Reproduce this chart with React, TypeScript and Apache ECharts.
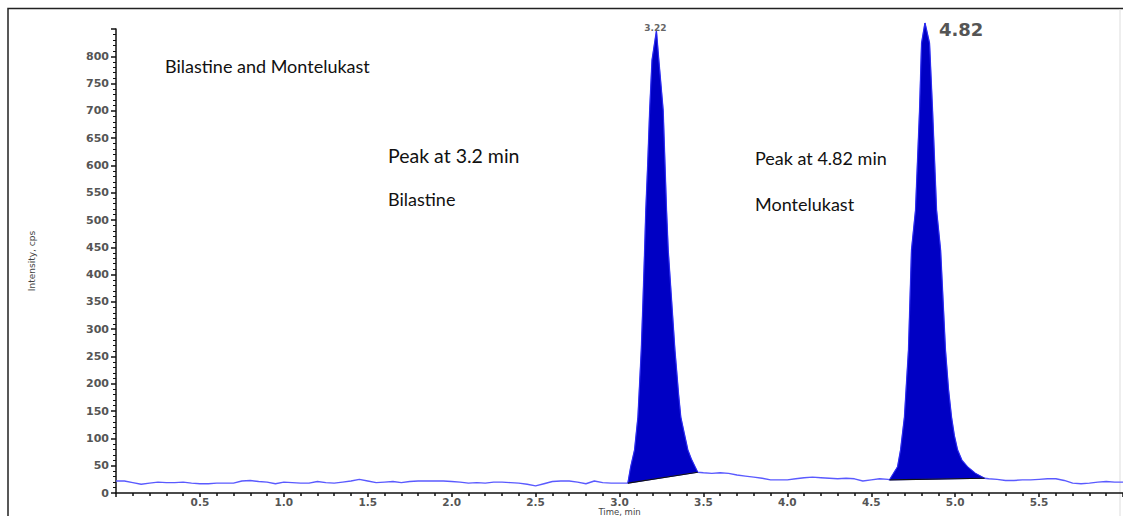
import React, { useEffect, useRef } from "react";
import * as echarts from "echarts";

// Chromatogram trace (time in min, intensity in cps)
const traceTime = [
  0.0, 0.05, 0.1, 0.15, 0.2, 0.25, 0.3, 0.35, 0.4, 0.45, 0.5, 0.55, 0.6, 0.65, 0.7, 0.75, 0.8, 0.85, 0.9, 0.95,
  1.0, 1.05, 1.1, 1.15, 1.2, 1.25, 1.3, 1.35, 1.4, 1.45, 1.5, 1.55, 1.6, 1.65, 1.7, 1.75, 1.8, 1.85, 1.9, 1.95,
  2.0, 2.05, 2.1, 2.15, 2.2, 2.25, 2.3, 2.35, 2.4, 2.45, 2.5, 2.55, 2.6, 2.65, 2.7, 2.75, 2.8, 2.85, 2.9, 2.95,
  3.0, 3.05, 3.067, 3.09, 3.11, 3.12, 3.13, 3.14, 3.15, 3.157, 3.168, 3.18, 3.194, 3.22, 3.234, 3.26, 3.28, 3.29,
  3.33, 3.352, 3.365, 3.385, 3.407, 3.428, 3.45, 3.466, 3.5, 3.55, 3.6, 3.65, 3.7, 3.75, 3.8, 3.85, 3.9, 3.95, 4.0,
  4.05, 4.1, 4.15, 4.2, 4.25, 4.3, 4.35, 4.4, 4.45, 4.5, 4.55, 4.6, 4.609, 4.657, 4.675, 4.698, 4.722, 4.74, 4.764,
  4.788, 4.8, 4.82, 4.847, 4.865, 4.889, 4.913, 4.942, 4.96, 4.978, 4.995, 5.014, 5.04, 5.073, 5.12, 5.175, 5.2,
  5.25, 5.3, 5.35, 5.4, 5.45, 5.5, 5.55, 5.6, 5.65, 5.7, 5.75, 5.8, 5.85, 5.9, 5.95, 6.0,
];
const traceIntensity = [
  22, 22, 19, 16, 18, 20, 19, 19, 20, 18, 17, 17, 18, 18, 18, 22, 23, 21, 20, 17,
  20, 19, 18, 18, 21, 19, 18, 20, 22, 25, 22, 19, 20, 21, 19, 21, 22, 22, 22, 22,
  21, 20, 18, 19, 18, 20, 20, 19, 18, 16, 13, 17, 21, 22, 22, 20, 17, 22, 19, 18,
  18, 18, 48, 79, 139, 200, 262, 350, 445, 518, 600, 701, 793, 846, 793, 701, 518, 445,
  262, 180, 139, 110, 79, 62, 48, 38, 37, 36, 37, 36, 33, 31, 29, 27, 24, 24, 24,
  26, 28, 29, 28, 27, 26, 27, 26, 22, 24, 26, 25, 24, 48, 79, 139, 262, 445, 518,
  701, 824, 861, 824, 701, 518, 445, 262, 190, 139, 105, 79, 60, 48, 36, 27, 26,
  25, 23, 23, 24, 24, 25, 26, 26, 23, 18, 17, 18, 20, 21, 20, 20,
];

// Integrated peaks: start / end of the integration baseline and apex labels
const peakStart = [3.05, 4.609];
const peakEnd = [3.466, 5.175];
const peakLabels = ["3.22", "4.82"];

// Annotations
const titleText = "Bilastine and Montelukast";
const noteTexts = ["Peak at 3.2 min", "Bilastine", "Peak at 4.82 min", "Montelukast"];

const xLabelValues = [0.5, 1.0, 1.5, 2.0, 2.5, 3.0, 3.5, 4.0, 4.5, 5.0, 5.5];
const yLabelValues = [0, 50, 100, 150, 200, 250, 300, 350, 400, 450, 500, 550, 600, 650, 700, 750, 800];

const annFont = "Lato, 'Open Sans', sans-serif";

export default function App() {
  const ref = useRef<HTMLDivElement | null>(null);

  useEffect(() => {
    if (!ref.current) return;
    const chart = echarts.init(ref.current, undefined, { renderer: "svg" });
    const traceData = traceTime.map((t, i) => [t, traceIntensity[i]]);

    const annText = (text: string, x: number, y: number, size: number) => ({
      type: "text",
      x,
      y,
      style: { text, fontFamily: annFont, fontSize: size, fill: "#111", verticalAlign: "middle" },
    });

    const option: any = {
      animation: false,
      backgroundColor: "#ffffff",
      grid: { left: 116, right: 0, top: 29, bottom: 23, containLabel: false, outerBoundsMode: "none" },
      xAxis: {
        type: "value",
        min: 0,
        max: 6,
        interval: 0.5,
        name: "Time, min",
        nameLocation: "middle",
        nameGap: 14,
        nameMoveOverlap: false,
        nameTextStyle: { fontFamily: "DejaVu Sans", fontSize: 8.5, color: "#444", lineHeight: 9 },
        axisLine: { show: true, onZero: false, lineStyle: { color: "#111", width: 1.5 } },
        axisTick: { show: true, length: 4, lineStyle: { color: "#111", width: 1.5 } },
        minorTick: { show: true, splitNumber: 5, length: 3, lineStyle: { color: "#111", width: 1.5 } },
        splitLine: { show: false },
        axisLabel: {
          fontFamily: "DejaVu Sans",
          fontWeight: "bold",
          fontSize: 10.5,
          lineHeight: 11,
          color: "#555",
          margin: 3,
          formatter: (v: number) =>
            xLabelValues.some((x) => Math.abs(x - v) < 1e-6) ? v.toFixed(1) : "",
        },
      },
      yAxis: {
        type: "value",
        min: 0,
        max: 850,
        interval: 50,
        name: "Intensity, cps",
        nameLocation: "middle",
        nameRotate: 90,
        nameGap: 80,
        nameMoveOverlap: false,
        nameTextStyle: { fontFamily: "DejaVu Sans", fontSize: 9, color: "#444" },
        axisLine: { show: true, lineStyle: { color: "#111", width: 1.5 } },
        axisTick: { show: true, length: 5, lineStyle: { color: "#111", width: 1.5 } },
        minorTick: { show: true, splitNumber: 5, length: 3, lineStyle: { color: "#111", width: 1 } },
        splitLine: { show: false },
        axisLabel: {
          fontFamily: "DejaVu Sans",
          fontWeight: "bold",
          fontSize: 11,
          color: "#555",
          margin: 7,
          formatter: (v: number) => (yLabelValues.indexOf(v) >= 0 ? String(v) : ""),
        },
      },
      series: [
        {
          type: "line",
          data: traceData,
          showSymbol: false,
          symbol: "none",
          clip: false,
          lineStyle: { color: "#5a5aff", width: 1.4 },
          z: 2,
        },
        {
          type: "custom",
          clip: false,
          z: 3,
          data: peakStart.map((s, i) => [s, peakEnd[i]]),
          renderItem: (params: any, api: any) => {
            const i = params.dataIndex;
            const s = peakStart[i];
            const e = peakEnd[i];
            const pts: number[][] = [];
            let apexIdx = -1;
            for (let k = 0; k < traceTime.length; k++) {
              const t = traceTime[k];
              if (t >= s - 1e-9 && t <= e + 1e-9) {
                pts.push(api.coord([t, traceIntensity[k]]));
                if (apexIdx < 0 || traceIntensity[k] > traceIntensity[apexIdx]) apexIdx = k;
              }
            }
            const a = pts[0];
            const b = pts[pts.length - 1];
            const apex = api.coord([traceTime[apexIdx], traceIntensity[apexIdx]]);
            const first = i === 0;
            return {
              type: "group",
              children: [
                {
                  type: "polygon",
                  shape: { points: pts },
                  style: { fill: "#0000c4", stroke: "#2a2aee", lineWidth: 1, lineJoin: "round" },
                },
                {
                  type: "line",
                  shape: { x1: a[0], y1: a[1], x2: b[0], y2: b[1] },
                  style: { stroke: "#111", lineWidth: 1.2 },
                },
                {
                  type: "text",
                  x: first ? apex[0] - 1 : apex[0] + 14,
                  y: first ? apex[1] + 1 : apex[1] + 7,
                  style: {
                    text: peakLabels[i],
                    fontFamily: "DejaVu Sans",
                    fontWeight: "bold",
                    fontSize: first ? 9 : 18,
                    fill: first ? "#666" : "#555",
                    align: first ? "center" : "left",
                    verticalAlign: first ? "bottom" : "middle",
                  },
                },
              ],
            };
          },
        },
      ],
      graphic: [
        {
          type: "polyline",
          shape: { points: [[8, 516], [8, 8.5], [1123, 8.5]] },
          style: { stroke: "#222", lineWidth: 1.5, fill: null },
          silent: true,
        },
        {
          type: "line",
          shape: { x1: 1120, y1: 9, x2: 1120, y2: 516 },
          style: { stroke: "#ddd", lineWidth: 1 },
          silent: true,
        },
        annText(titleText, 165, 66, 18),
        annText(noteTexts[0], 388, 155, 19.5),
        annText(noteTexts[1], 388, 199, 18),
        annText(noteTexts[2], 755, 158, 18),
        annText(noteTexts[3], 755, 204, 18),
      ],
    };

    chart.setOption(option);
    return () => chart.dispose();
  }, []);

  return (
    <div
      ref={ref}
      style={{ position: "absolute", left: 0, top: 0, width: 1123, height: 516, background: "#fff" }}
    />
  );
}
